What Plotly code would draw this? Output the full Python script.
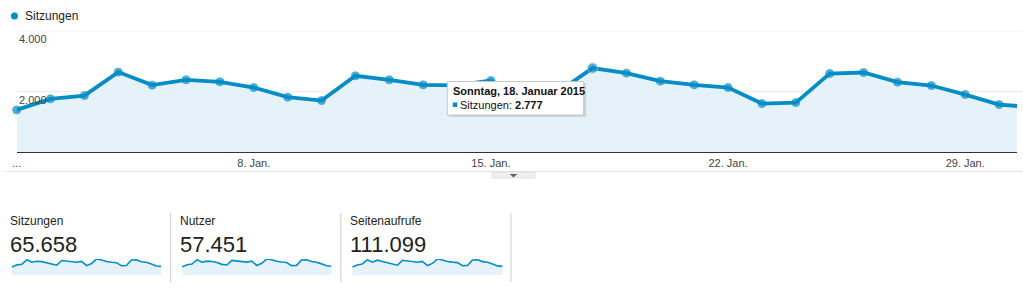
import plotly.graph_objects as go

W, H = 1023, 289

dates = ["2015-01-%02d" % d for d in range(1, 32)]
sitzungen = [1398, 1762, 1871, 2645, 2215, 2390, 2324, 2136, 1818, 1706,
             2522, 2390, 2225, 2208, 2367, 1621, 2003, 2777, 2612, 2347,
             2225, 2136, 1607, 1640, 2598, 2631, 2314, 2202, 1904, 1574, 1490]
nutzer = [1230, 1545, 1640, 2290, 1935, 2085, 2030, 1870, 1595, 1500,
          2190, 2085, 1950, 1935, 2070, 1430, 1760, 2400, 2275, 2050,
          1950, 1870, 1415, 1445, 2255, 2290, 2020, 1925, 1670, 1385, 1315]
seitenaufrufe = [2330, 2950, 3240, 4480, 3760, 4350, 3960, 3620, 3080, 2880,
                 4310, 4070, 3780, 3750, 4010, 2760, 3400, 4700, 4430, 3990,
                 3780, 3630, 2740, 2790, 4420, 4460, 3930, 3740, 3230, 2680, 2540]
tick_vals = ["2015-01-01", "2015-01-08", "2015-01-15", "2015-01-22", "2015-01-29"]
tick_text = ["...", "8. Jan.", "15. Jan.", "22. Jan.", "29. Jan."]
y_labels = [(4000, "4.000"), (2000, "2.000")]
summary = [("Sitzungen", "65.658"), ("Nutzer", "57.451"), ("Seitenaufrufe", "111.099")]
hover_idx = 17
hover_title = "Sonntag, 18. Januar 2015"
hover_value = "2.777"

BLUE = "#058DC7"
FILL = "#E6F2FA"
FONT = "Arial, Liberation Sans, sans-serif"


def px(x):
    return x / W


def py(y):
    return 1 - y / H


def text(x, y, t, size, color="#222", yref="paper", yshift=0):
    return dict(xref="paper", yref=yref, x=x, y=y, yshift=yshift,
                xanchor="left", yanchor="middle", text=t, showarrow=False,
                borderpad=0, borderwidth=0,
                font=dict(family=FONT, size=size, color=color))


fig = go.Figure()

sizes = [8] * len(sitzungen)
sizes[hover_idx] = 10
lcols = [BLUE] * len(sitzungen)
lcols[hover_idx] = "#BBBBBB"
fig.add_trace(go.Scatter(
    x=dates, y=sitzungen, mode="lines+markers", fill="tozeroy",
    fillcolor=FILL, line=dict(color=BLUE, width=3.8),
    marker=dict(color=BLUE, size=sizes, line=dict(color=lcols, width=1)),
    cliponaxis=False, xaxis="x", yaxis="y", hoverinfo="skip"))

spark_series = [sitzungen, nutzer, seitenaufrufe]
spark_x = [(7, 157), (178, 328), (349, 500)]
for i, (ser, (x0, x1)) in enumerate(zip(spark_series, spark_x)):
    n = i + 2
    fig.add_trace(go.Scatter(
        x=dates, y=ser, mode="lines", fill="tozeroy", fillcolor=FILL,
        line=dict(color=BLUE, width=1.6), xaxis="x%d" % n, yaxis="y%d" % n,
        hoverinfo="skip"))
    fig.layout["xaxis%d" % n] = dict(domain=[px(x0), px(x1)], visible=False,
                                    range=[dates[0], dates[-1]], fixedrange=True)
    fig.layout["yaxis%d" % n] = dict(domain=[py(275), py(259)], visible=False,
                                    range=[0, max(ser)], anchor="x%d" % n)

shapes = []
annotations = []

# gridlines
for v, t in y_labels:
    shapes.append(dict(type="line", xref="paper", yref="y", x0=px(11.7), x1=1,
                       y0=v, y1=v, line=dict(color="#EBEBEB", width=1), layer="below"))
    annotations.append(text(px(14), v, t, 11, "#444", yref="y", yshift=-8.5))

# legend
shapes.append(dict(type="circle", xref="paper", yref="paper",
                   x0=px(6), x1=px(13), y0=py(19.5), y1=py(12.5),
                   fillcolor=BLUE, line=dict(width=0)))
annotations.append(text(px(20.5), py(16.5), "Sitzungen", 12))

# divider and handle
shapes.append(dict(type="line", xref="paper", yref="paper", x0=0, x1=1,
                   y0=py(171.5), y1=py(171.5), line=dict(color="#E3E3E3", width=1)))
shapes.append(dict(type="rect", xref="paper", yref="paper", x0=px(489.5), x1=px(532.5),
                   y0=py(178), y1=py(172), fillcolor="#EFEFEF",
                   line=dict(color="#E0E0E0", width=1)))
shapes.append(dict(type="path", xref="paper", yref="paper",
                   path="M %f,%f L %f,%f L %f,%f Z" % (px(507), py(174), px(515), py(174),
                                                       px(511), py(177.5)),
                   fillcolor="#666", line=dict(width=0)))

# tooltip
shapes.append(dict(type="rect", xref="paper", yref="paper", x0=px(446), x1=px(584),
                   y0=py(117), y1=py(83), fillcolor="rgba(0,0,0,0.12)",
                   line=dict(width=0), layer="above"))
shapes.append(dict(type="rect", xref="paper", yref="paper", x0=px(444.5), x1=px(581.5),
                   y0=py(115), y1=py(81.5), fillcolor="white",
                   line=dict(color="#C8C8C8", width=1), layer="above"))
shapes.append(dict(type="rect", xref="paper", yref="paper", x0=px(450), x1=px(454.5),
                   y0=py(107), y1=py(102.5), fillcolor=BLUE, line=dict(width=0),
                   layer="above"))
annotations.append(text(px(450), py(91), "<b>%s</b>" % hover_title, 11, "#111"))
annotations.append(text(px(457.5), py(104.5), "Sitzungen: <b>%s</b>" % hover_value,
                        11, "#111"))

# summary
sum_x = [5.5, 176, 347]
for (lab, val), x in zip(summary, sum_x):
    annotations.append(text(px(x), py(220.5), lab, 12))
    annotations.append(text(px(x - 0.5), py(244.5), val, 22))
for x in [166.5, 337.5, 508.5]:
    shapes.append(dict(type="line", xref="paper", yref="paper", x0=px(x), x1=px(x),
                       y0=py(213), y1=py(282), line=dict(color="#CCCCCC", width=1)))

fig.update_layout(
    width=W, height=H, margin=dict(l=0, r=0, t=0, b=0),
    paper_bgcolor="white", plot_bgcolor="white", showlegend=False,
    font=dict(family=FONT),
    xaxis=dict(domain=[px(11.7), px(1017)], range=["2015-01-01", "2015-01-30 12:43"],
               tickvals=tick_vals, ticktext=tick_text, showgrid=False, zeroline=False,
               showline=True, linecolor="#333", linewidth=1, ticks="",
               tickfont=dict(family=FONT, size=11, color="#444"), fixedrange=True),
    yaxis=dict(domain=[py(152.3), py(31)], range=[0, 4000], showgrid=False,
               zeroline=False, showticklabels=False, fixedrange=True),
    shapes=shapes, annotations=annotations,
)

fig.write_html("out.html")
